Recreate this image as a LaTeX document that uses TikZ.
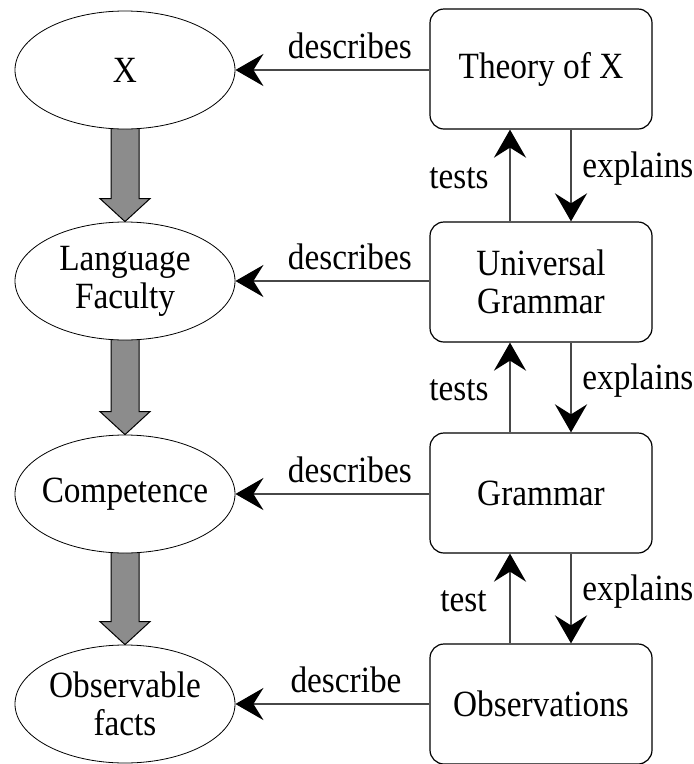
\documentclass[tikz,border=0pt]{standalone}
\usepackage{fontspec}
\setmainfont{Liberation Serif}[FakeStretch=0.9]
\usetikzlibrary{arrows.meta,shapes.geometric,calc,backgrounds}
\begin{document}
\begin{tikzpicture}[x=1pt,y=-1pt,
  txt/.style={font=\fontsize{37}{38}\selectfont},
  ell/.style={txt,ellipse,draw,fill=white,line width=0.8pt,minimum width=220pt,minimum height=118pt,inner ysep=0pt,inner xsep=-30pt,align=center},
  box/.style={txt,draw,rounded corners=14pt,fill=white,line width=1.2pt,minimum width=222pt,minimum height=120pt,inner sep=0pt,align=center},
  conn/.style={line width=2.8pt,draw=black!72,-{Stealth[length=28pt,width=32pt,inset=10pt,color=black]}},
  lab/.style={txt,inner sep=0pt},
  blk/.style={draw=black,line width=1pt,fill=black!45}]
\useasboundingbox (0,0) rectangle (694,764);
\node[ell] (x) at (125,70) {X};
\node[ell] (lf) at (125,281) {Language\\Faculty};
\node[ell] (comp) at (125,494) {Competence};
\node[ell] (obs) at (125,704) {Observable\\facts};
\node[box] (thx) at (541,69) {Theory of X};
\node[box] (ug) at (541,282) {Universal\\Grammar};
\node[box] (gr) at (541,493) {Grammar};
\node[box] (obsv) at (541,704) {Observations};
\begin{scope}[on background layer]
\foreach \a/\b in {x/lf,lf/comp,comp/obs}{
  \draw[blk] ($(\a.south)+(-14,-5)$) -- ($(\b.north)+(-14,-23)$) -- ($(\b.north)+(-25,-23)$)
    -- (\b.north) -- ($(\b.north)+(25,-23)$) -- ($(\b.north)+(14,-23)$) -- ($(\a.south)+(14,-5)$) -- cycle;
}
\end{scope}
% describes
\draw[conn] (thx.west |- x.east) -- (x.east) node[lab,pos=0.41,anchor=base,yshift=12pt] {describes};
\draw[conn] (ug.west |- lf.east) -- (lf.east) node[lab,pos=0.41,anchor=base,yshift=12pt] {describes};
\draw[conn] (gr.west |- comp.east) -- (comp.east) node[lab,pos=0.41,anchor=base,yshift=12pt] {describes};
\draw[conn] (obsv.west |- obs.east) -- (obs.east) node[lab,pos=0.43,anchor=base,yshift=12pt] {describe};
% tests / explains
\draw[conn] ([xshift=-31pt]ug.north) -- ([xshift=-31pt]thx.south) node[lab,midway,anchor=east,xshift=-20pt,yshift=-3pt] {tests};
\draw[conn] ([xshift=30pt]thx.south) -- ([xshift=30pt]ug.north) node[lab,midway,anchor=west,xshift=10pt,yshift=7pt] {explains};
\draw[conn] ([xshift=-31pt]gr.north) -- ([xshift=-31pt]ug.south) node[lab,midway,anchor=east,xshift=-20pt,yshift=-3pt] {tests};
\draw[conn] ([xshift=30pt]ug.south) -- ([xshift=30pt]gr.north) node[lab,midway,anchor=west,xshift=10pt,yshift=7pt] {explains};
\draw[conn] ([xshift=-31pt]obsv.north) -- ([xshift=-31pt]gr.south) node[lab,midway,anchor=east,xshift=-22pt,yshift=-3pt] {test};
\draw[conn] ([xshift=30pt]gr.south) -- ([xshift=30pt]obsv.north) node[lab,midway,anchor=west,xshift=10pt,yshift=7pt] {explains};
\end{tikzpicture}
\end{document}
